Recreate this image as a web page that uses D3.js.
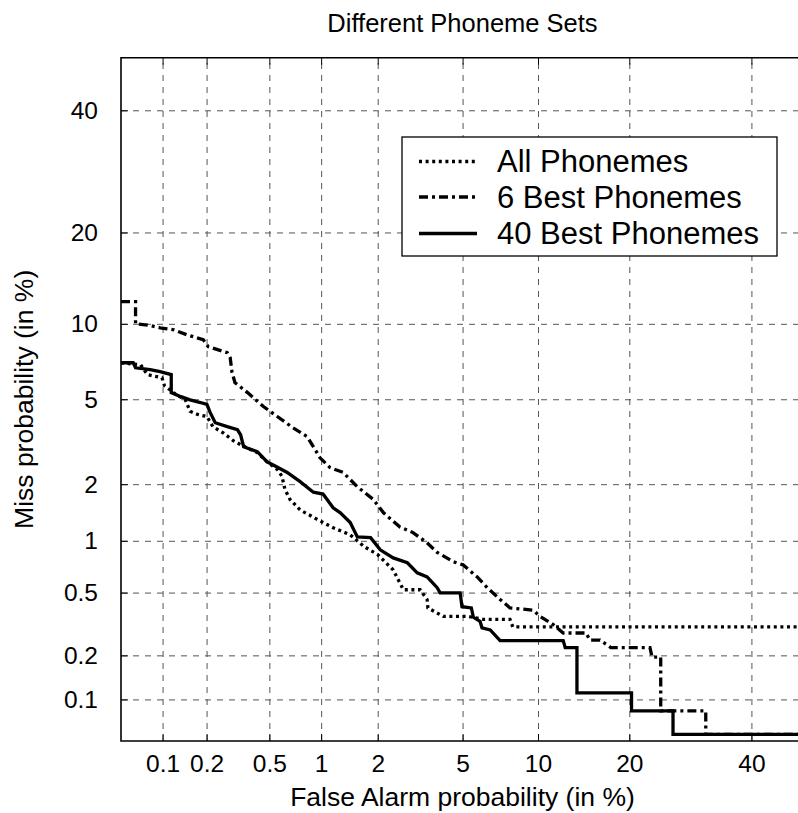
<!DOCTYPE html>
<html>
<head>
<meta charset="utf-8">
<script src="https://cdn.jsdelivr.net/npm/d3@7"></script>
<style>
  html, body { margin: 0; padding: 0; background: #fff; }
  svg { display: block; }
  text { font-family: "Liberation Sans", Arial, Helvetica, sans-serif; fill: #000; }
</style>
</head>
<body>
<svg id="chart" width="798" height="813"></svg>
<script>
// ---------------- data (percent) ----------------
const chartTitle = "Different Phoneme Sets";
const xLabel = "False Alarm probability (in %)";
const yLabel = "Miss probability (in %)";
const xTicks = [0.1, 0.2, 0.5, 1, 2, 5, 10, 20, 40];
const xTickLabels = ["0.1", "0.2", "0.5", "1", "2", "5", "10", "20", "40"];
const yTicks = [0.1, 0.2, 0.5, 1, 2, 5, 10, 20, 40];
const yTickLabels = ["0.1", "0.2", "0.5", "1", "2", "5", "10", "20", "40"];
const axisMin = 0.05, axisMax = 50;

const seriesNames = ["All Phonemes", "6 Best Phonemes", "40 Best Phonemes"];

const allFA   = [0.05,0.0697,0.078,0.099,0.103,0.124,0.144,0.155,0.174,0.201,0.22,0.257,0.298,0.332,0.422,0.485,0.558,0.595,0.62,0.664,0.76,0.951,1.165,1.44,1.7,2.0,2.39,2.68,3.22,3.47,3.5,4.11,5.24,6.1,7.83,8.03,50];
const allMiss = [7.09,6.96,6.35,6.16,5.72,5.24,4.97,4.43,4.29,4.2,3.78,3.54,3.26,3.12,2.86,2.58,2.37,2.19,1.88,1.67,1.47,1.31,1.18,1.08,0.93,0.835,0.682,0.52,0.52,0.454,0.403,0.357,0.357,0.342,0.342,0.306,0.306];

const best6FA   = [0.05,0.064,0.064,0.078,0.096,0.12,0.148,0.19,0.205,0.273,0.285,0.293,0.306,0.367,0.46,0.558,0.69,0.835,0.986,1.12,1.32,1.57,1.9,2.14,2.58,2.98,3.47,3.86,4.56,5.02,5.77,6.35,7.16,7.83,9.59,10.17,11.35,12.3,14.7,15.1,16.3,17.6,22.9,23.2,24.5,24.5,31.8,31.8,50];
const best6Miss = [12,12,10,9.9,9.67,9.5,9.1,8.72,8.2,7.77,7.43,6.47,5.88,5.34,4.65,4.2,3.74,3.4,2.7,2.42,2.29,1.94,1.67,1.42,1.19,1.11,0.975,0.86,0.76,0.73,0.62,0.535,0.454,0.403,0.39,0.357,0.317,0.28,0.28,0.252,0.252,0.225,0.225,0.195,0.195,0.083,0.083,0.056,0.056];

const best40FA   = [0.05,0.0615,0.064,0.0816,0.096,0.115,0.115,0.134,0.155,0.182,0.201,0.211,0.228,0.273,0.317,0.332,0.347,0.422,0.485,0.528,0.639,0.76,0.905,1.025,1.165,1.275,1.44,1.57,1.84,2.06,2.39,2.8,3.12,3.47,3.86,3.98,4.88,4.97,5.45,5.56,5.93,6.04,6.53,7.16,12.3,12.5,13.7,13.7,20.3,20.3,26.4,26.4,50];
const best40Miss = [7.09,7.09,6.77,6.65,6.53,6.35,5.34,5.13,4.97,4.84,4.75,4.38,3.94,3.78,3.66,3.47,3.05,2.89,2.58,2.49,2.29,2.06,1.82,1.78,1.51,1.42,1.26,1.05,1.04,0.89,0.8,0.75,0.656,0.62,0.535,0.498,0.498,0.41,0.403,0.352,0.332,0.302,0.293,0.25,0.25,0.225,0.225,0.111,0.111,0.083,0.083,0.056,0.056];

// ---------------- helpers ----------------
function probit(p) {
  const a=[-3.969683028665376e+01,2.209460984245205e+02,-2.759285104469687e+02,1.383577518672690e+02,-3.066479806614716e+01,2.506628277459239e+00];
  const b=[-5.447609879822406e+01,1.615858368580409e+02,-1.556989798598866e+02,6.680131188771972e+01,-1.328068155288572e+01];
  const c=[-7.784894002430293e-03,-3.223964580411365e-01,-2.400758277161838e+00,-2.549732539343734e+00,4.374664141464968e+00,2.938163982698783e+00];
  const d=[7.784695709041462e-03,3.224671290700398e-01,2.445134137142996e+00,3.754408661907416e+00];
  const pl = 0.02425, ph = 1 - pl;
  if (p < pl) { const q = Math.sqrt(-2*Math.log(p)); return (((((c[0]*q+c[1])*q+c[2])*q+c[3])*q+c[4])*q+c[5])/((((d[0]*q+d[1])*q+d[2])*q+d[3])*q+1); }
  if (p <= ph) { const q = p-0.5, r = q*q; return (((((a[0]*r+a[1])*r+a[2])*r+a[3])*r+a[4])*r+a[5])*q/(((((b[0]*r+b[1])*r+b[2])*r+b[3])*r+b[4])*r+1); }
  const q = Math.sqrt(-2*Math.log(1-p)); return -(((((c[0]*q+c[1])*q+c[2])*q+c[3])*q+c[4])*q+c[5])/((((d[0]*q+d[1])*q+d[2])*q+d[3])*q+1);
}
const dev = v => probit(v / 100);

// ---------------- layout ----------------
const L = 121, T = 57.7, R = 804, B = 741;
const svg = d3.select("#chart");

const xs = d3.scaleLinear().domain([dev(axisMin), dev(axisMax)]).range([L, R]);
const ys = d3.scaleLinear().domain([dev(axisMin), dev(axisMax)]).range([B, T]);
const X = v => xs(dev(v));
const Y = v => ys(dev(v));

svg.append("defs").append("clipPath").attr("id", "plotclip")
  .append("rect").attr("x", L).attr("y", T).attr("width", R - L).attr("height", B - T);

// grid
const grid = svg.append("g");
grid.append("g").attr("transform", `translate(0,${B})`)
  .call(d3.axisBottom(xs).tickValues(xTicks.map(dev)).tickSize(-(B - T)).tickFormat(""))
  .call(g => g.select(".domain").remove())
  .call(g => g.selectAll("line").attr("stroke", "#555").attr("stroke-width", 1).attr("stroke-dasharray", "6,6"));
grid.append("g").attr("transform", `translate(${L},0)`)
  .call(d3.axisLeft(ys).tickValues(yTicks.map(dev)).tickSize(-(R - L)).tickFormat(""))
  .call(g => g.select(".domain").remove())
  .call(g => g.selectAll("line").attr("stroke", "#555").attr("stroke-width", 1).attr("stroke-dasharray", "6,6"));

// tick marks (inward) + labels
const tickLen = 7;
const tickFont = 24.5;
svg.append("g").attr("transform", `translate(0,${B})`)
  .call(d3.axisBottom(xs).tickValues(xTicks.map(dev)).tickSizeInner(-tickLen).tickSizeOuter(0).tickPadding(14)
    .tickFormat((d, i) => xTickLabels[i]))
  .call(g => g.select(".domain").remove())
  .call(g => g.selectAll("line").attr("stroke", "#000").attr("stroke-width", 1))
  .call(g => g.selectAll("text").attr("font-size", tickFont).attr("font-family", "Liberation Sans, Arial, sans-serif").attr("fill", "#000"));
svg.append("g").attr("transform", `translate(0,${T})`)
  .call(d3.axisTop(xs).tickValues(xTicks.map(dev)).tickSizeInner(-tickLen).tickSizeOuter(0).tickFormat(""))
  .call(g => g.select(".domain").remove())
  .call(g => g.selectAll("line").attr("stroke", "#000").attr("stroke-width", 1));
svg.append("g").attr("transform", `translate(${L},0)`)
  .call(d3.axisLeft(ys).tickValues(yTicks.map(dev)).tickSizeInner(-tickLen).tickSizeOuter(0).tickPadding(23)
    .tickFormat((d, i) => yTickLabels[i]))
  .call(g => g.select(".domain").remove())
  .call(g => g.selectAll("line").attr("stroke", "#000").attr("stroke-width", 1))
  .call(g => g.selectAll("text").attr("font-size", tickFont).attr("font-family", "Liberation Sans, Arial, sans-serif").attr("fill", "#000"));

// box
svg.append("path")
  .attr("d", `M${R},${T}H${L}V${B}H${R}`)
  .attr("fill", "none").attr("stroke", "#000").attr("stroke-width", 1.6);

// curves
const styles = [
  { dash: "3,3.6", width: 3.3 },
  { dash: "9,4,3,4", width: 3.3 },
  { dash: null, width: 3.3 }
];
const seriesData = [
  allFA.map((v, i) => [v, allMiss[i]]),
  best6FA.map((v, i) => [v, best6Miss[i]]),
  best40FA.map((v, i) => [v, best40Miss[i]])
];
const line = d3.line().x(d => X(d[0])).y(d => Y(d[1]));
const curves = svg.append("g").attr("clip-path", "url(#plotclip)");
seriesData.forEach((s, i) => {
  curves.append("path").datum(s)
    .attr("d", line)
    .attr("fill", "none").attr("stroke", "#000")
    .attr("stroke-width", styles[i].width)
    .attr("stroke-dasharray", styles[i].dash)
    .attr("stroke-linejoin", "miter");
});

// title & labels
svg.append("text").attr("x", (L + R) / 2).attr("y", 32).attr("text-anchor", "middle")
  .attr("font-size", 25.5).text(chartTitle);
svg.append("text").attr("x", (L + R) / 2).attr("y", 806).attr("text-anchor", "middle")
  .attr("font-size", 26.5).text(xLabel);
svg.append("text").attr("transform", `translate(33,${(T + B) / 2}) rotate(-90)`).attr("text-anchor", "middle")
  .attr("font-size", 26.5).text(yLabel);

// legend
const lg = svg.append("g");
lg.append("rect").attr("x", 402).attr("y", 137).attr("width", 375).attr("height", 119)
  .attr("fill", "#fff").attr("stroke", "#000").attr("stroke-width", 1.3);
const rowY = [161.5, 197, 233.5];
seriesNames.forEach((name, i) => {
  lg.append("line").attr("x1", 419).attr("x2", 477).attr("y1", rowY[i]).attr("y2", rowY[i])
    .attr("stroke", "#000").attr("stroke-width", styles[i].width)
    .attr("stroke-dasharray", styles[i].dash);
  lg.append("text").attr("x", 497).attr("y", rowY[i] + 10.5).attr("font-size", 31).text(name);
});
</script>
</body>
</html>
